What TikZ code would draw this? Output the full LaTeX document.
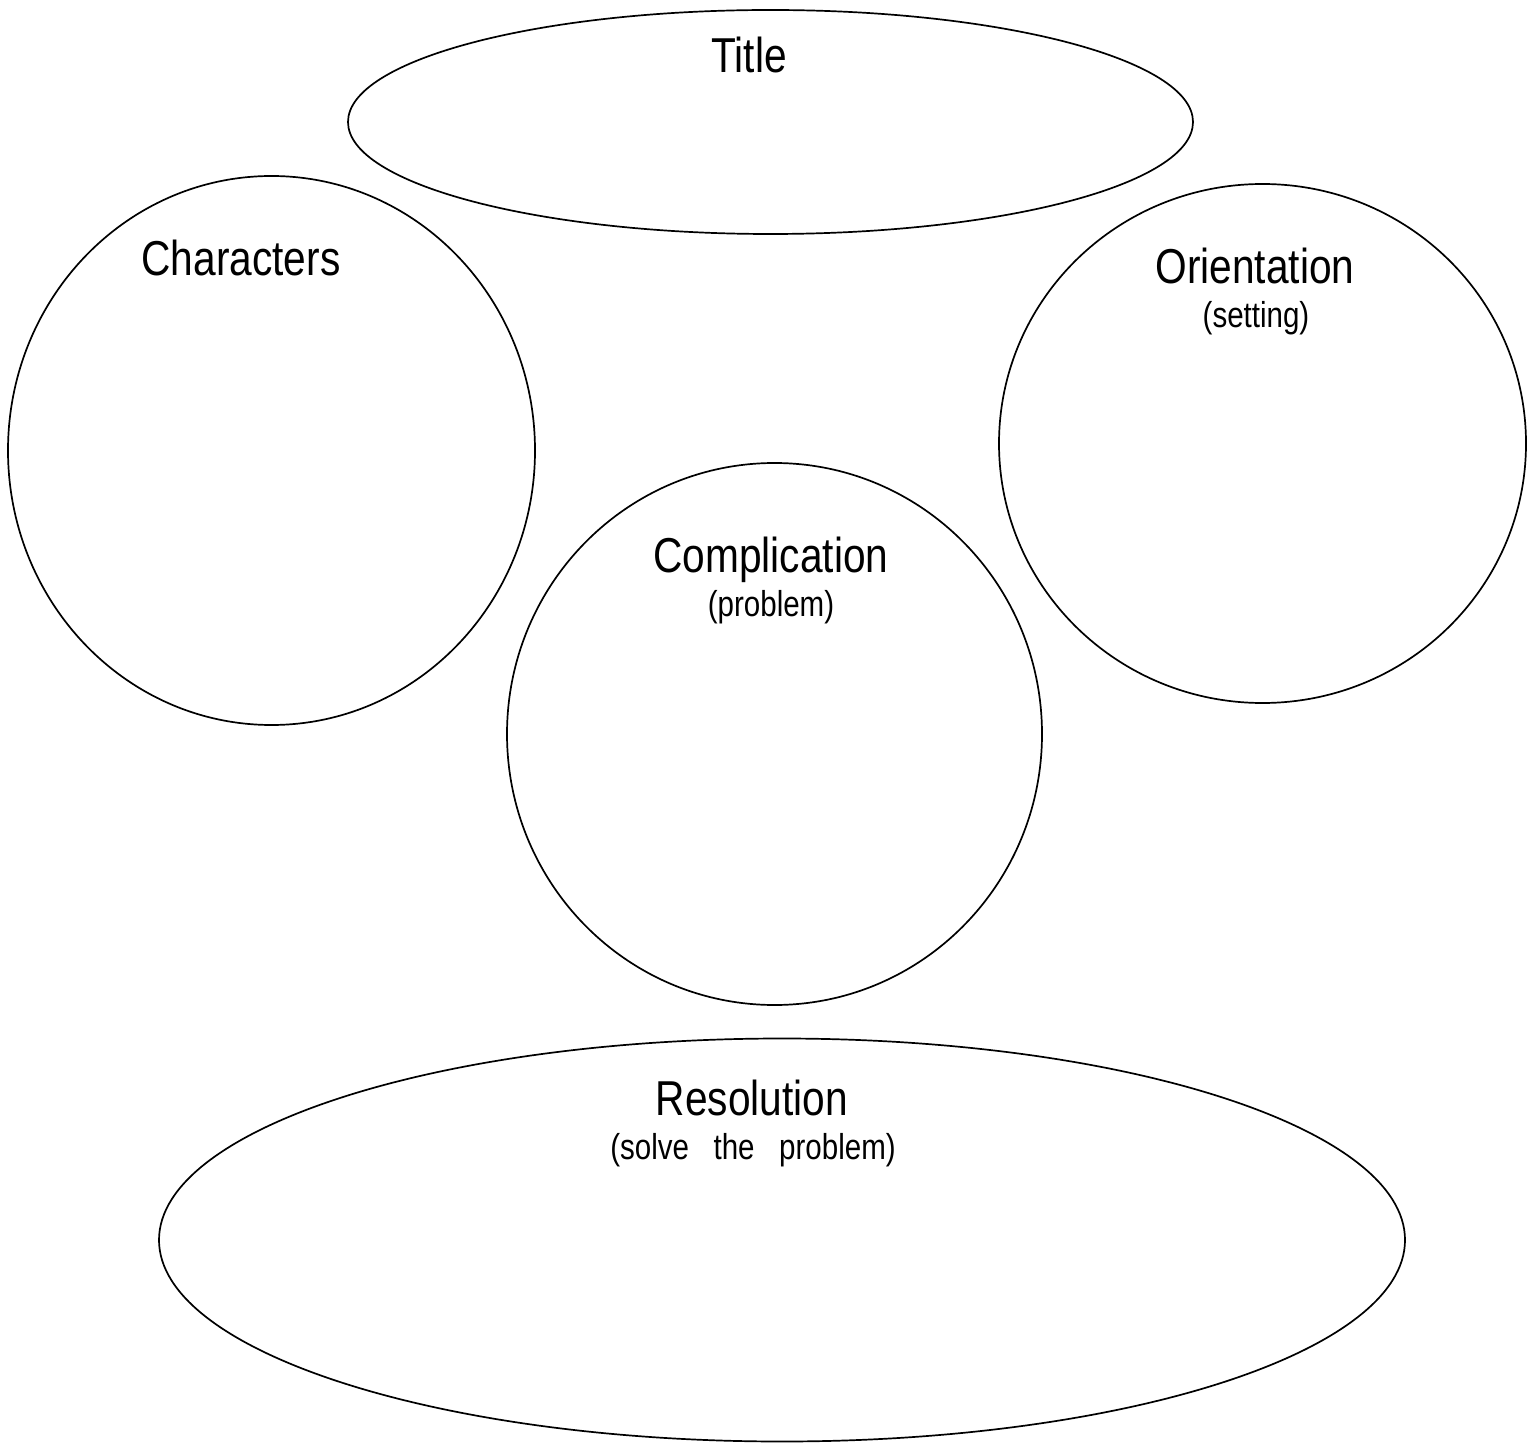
\documentclass[tikz,border=0pt]{standalone}
\usepackage{fontspec}
\setmainfont{Liberation Sans}
\begin{document}
\begin{tikzpicture}[x=0.5pt,y=-0.5pt,
  shapeline/.style={draw=black,line width=0.85pt},
  headtext/.style={anchor=base,inner sep=0pt,xscale=0.83,transform shape,font=\fontsize{24.5}{28}\selectfont},
  subtext/.style={anchor=base,inner sep=0pt,xscale=0.82,transform shape,font=\fontsize{18}{21}\selectfont}]
\useasboundingbox (0,0) rectangle (1530,1443);
\fill[white] (0,0) rectangle (1530,1443);
% shapes
\draw[shapeline] (770.5,122) ellipse [x radius=422.5, y radius=112];
\draw[shapeline] (271.5,450.5) ellipse [x radius=263.5, y radius=274.5];
\draw[shapeline] (1262.5,443.5) ellipse [x radius=263.5, y radius=259.5];
\draw[shapeline] (774.5,734) ellipse [x radius=267.5, y radius=271];
\draw[shapeline] (782,1240) ellipse [x radius=623, y radius=201.5];
% texts
\node[headtext] (title) at (749,73) {Title};
\node[headtext] (characters) at (241,276) {Characters};
\node[headtext] (orientation) at (1255,284) {Orientation};
\node[subtext] (setting) at (1256,328) {(setting)};
\node[headtext] (complication) at (771,572) {Complication};
\node[subtext] (problem) at (771,616) {(problem)};
\node[headtext] (resolution) at (752,1115) {Resolution};
\node[subtext] (solve) at (753,1159) {(solve\ \ \ the\ \ \ problem)};
\end{tikzpicture}
\end{document}
